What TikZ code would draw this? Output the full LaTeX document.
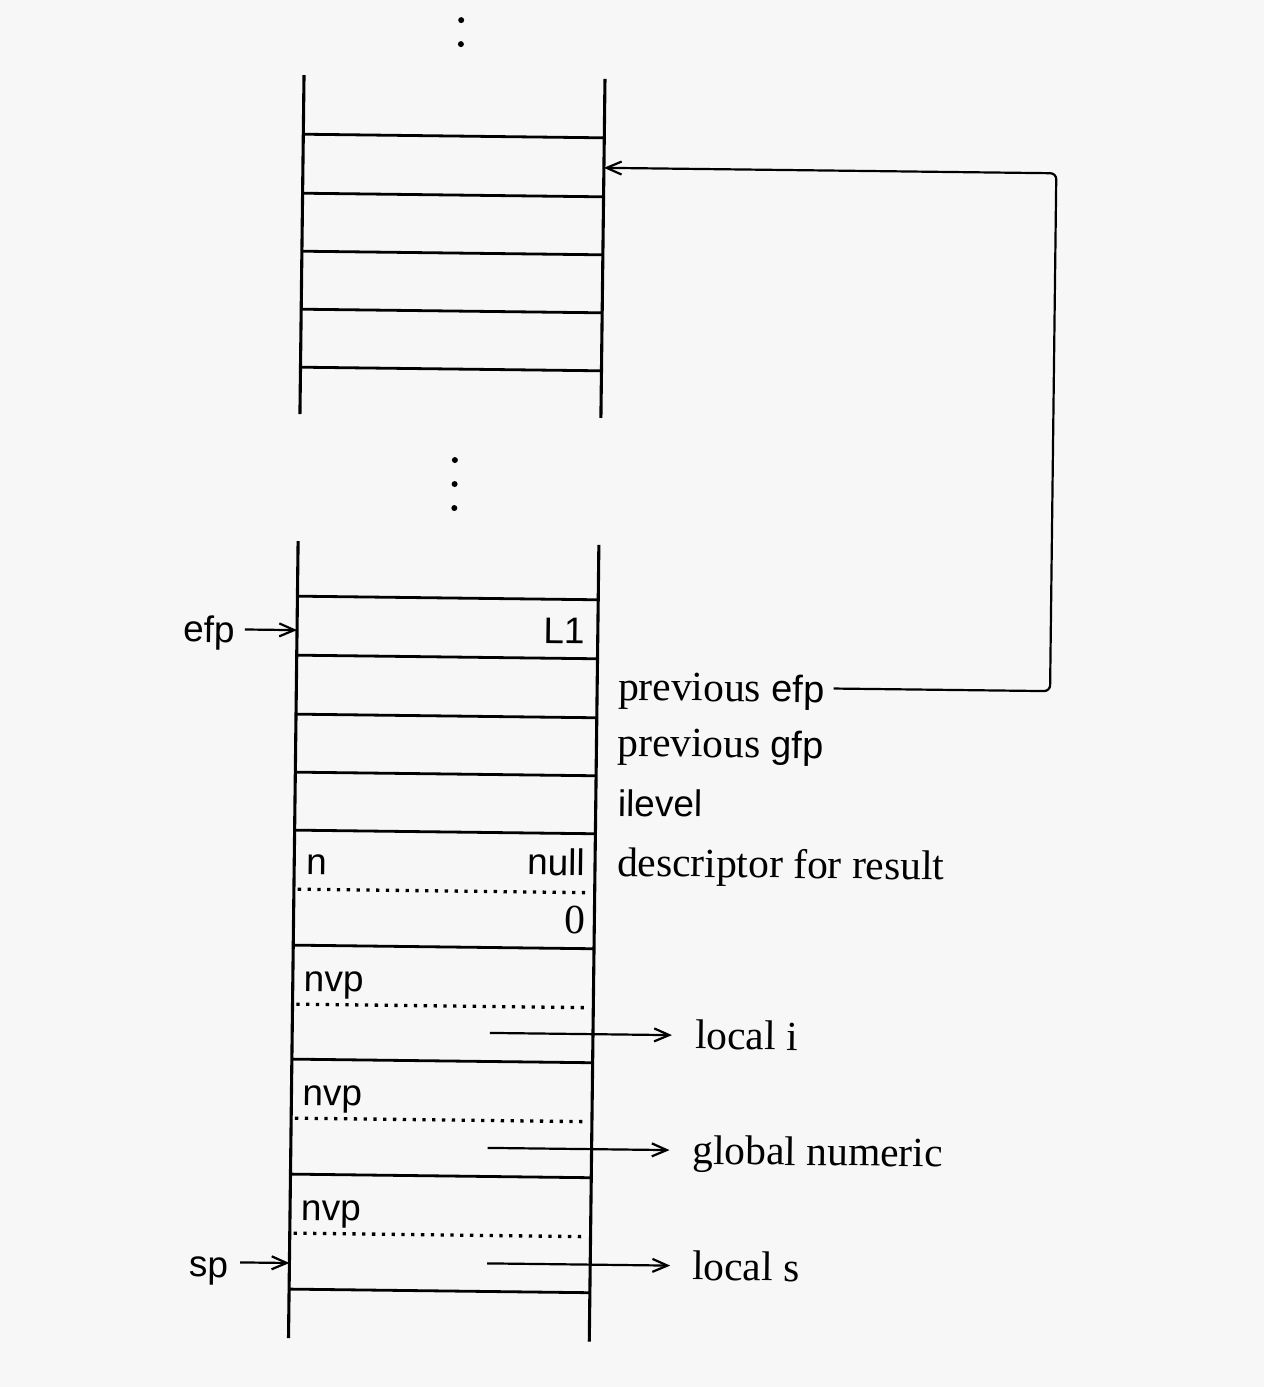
\documentclass[tikz,border=0pt]{standalone}
\usepackage{fontspec}
\setmainfont{Liberation Serif}
\setsansfont{Liberation Sans}
\usetikzlibrary{arrows.meta}
\definecolor{paper}{HTML}{F7F7F7}
\newcommand\sfbit[1]{{\fontsize{38}{44}\selectfont\sffamily #1}}
\begin{document}
\begin{tikzpicture}[x=1pt,y=-1pt,
  wall/.style={line width=3.1pt},
  sepline/.style={line width=2.8pt},
  dotline/.style={line width=3.3pt, dash pattern=on 3.3pt off 6.5pt},
  conn/.style={line width=2.2pt, -{Straight Barb[length=15pt,width=13pt,line width=2.2pt]}},
  serif/.style={font=\fontsize{41.5}{48}\selectfont, inner sep=0pt},
  sans/.style={font=\fontsize{37}{43}\selectfont\sffamily, inner sep=0pt},
  vdot/.style={circle, fill, inner sep=0pt, minimum size=6pt}]
\fill[paper] (0,0) rectangle (1264,1387);
\useasboundingbox (0,0) rectangle (1264,1387);
\begin{scope}[rotate around={-0.69:(450,700)}, transform shape]
  % continuation dots
  \node[vdot] (dA) at (453,20) {};
  \node[vdot] (dB) at (453,44) {};
  \node[vdot] (dC) at (452,460) {};
  \node[vdot] (dD) at (452,484) {};
  \node[vdot] (dE) at (452,508) {};
  % upper stack
  \draw[wall] (296.5,77) -- (296.5,416) (597.5,77) -- (597.5,416);
  \foreach \yy in {136,195,253,311,369}
    \draw[sepline] (296.5,\yy) -- (597.5,\yy);
  % lower stack
  \draw[wall] (296.2,543) -- (296.2,1340) (597,543) -- (597,1340);
  \foreach \yy in {598,657,716,774,832,947,1061,1176,1291}
    \draw[sepline] (296.2,\yy) -- (597,\yy);
  \foreach \yy in {891,1006,1120,1235}
    \draw[dotline] (300,\yy) -- (588,\yy);
  % cell contents
  \node[sans, anchor=base east] (L1) at (584,642) {L1};
  \node[sans, anchor=base west] (n) at (308,876) {n};
  \node[sans, anchor=base east] (null) at (587,874) {null};
  \node[serif, anchor=base east] (zero) at (588,932) {0};
  \node[sans, anchor=base west] (nvpA) at (307,993) {nvp};
  \node[sans, anchor=base west] (nvpB) at (307,1107) {nvp};
  \node[sans, anchor=base west] (nvpC) at (307,1222) {nvp};
  % right-hand labels
  \node[serif, anchor=base west] (pefp) at (618,698) {previous \sfbit{efp}};
  \node[serif, anchor=base west] (pgfp) at (618,754) {previous \sfbit{gfp}};
  \node[sans, anchor=base west] (ilevel) at (619,814) {ilevel};
  \node[serif, anchor=base west] (desc) at (619,874) {descriptor for result};
  \node[serif, anchor=base west] (loci) at (699,1046) {local i};
  \node[serif, anchor=base west] (globn) at (698,1161) {global numeric};
  \node[serif, anchor=base west] (locs) at (699,1277) {local s};
  % pointer labels
  \node[sans, anchor=base east] (efp) at (234,645) {efp};
  \node[sans, anchor=base east] (sp) at (235,1280) {sp};
  % coordinates
  \coordinate (efpT) at (296.2,632);
  \coordinate (spT) at (296.2,1265);
  \coordinate (aA) at (494,1032.5);
  \coordinate (aB) at (493,1147.5);
  \coordinate (aC) at (494,1263);
  \coordinate (tgt) at (597.5,166);
  \coordinate (rx) at (1050,0);
  \coordinate (pe) at ([xshift=9pt,yshift=14pt]pefp.base east);
  % connectors
  \draw[conn, shorten <=10pt] (efp.east |- efpT) -- (efpT);
  \draw[conn, shorten <=12pt] (sp.east |- spT) -- (spT);
  \draw[conn, shorten >=23pt] (aA) -- (aA -| loci.west);
  \draw[conn, shorten >=23pt] (aB) -- (aB -| globn.west);
  \draw[conn, shorten >=22pt] (aC) -- (aC -| locs.west);
  \draw[conn, rounded corners=6pt] (pe) -- (pe -| rx) |- (tgt);
\end{scope}
\end{tikzpicture}
\end{document}
